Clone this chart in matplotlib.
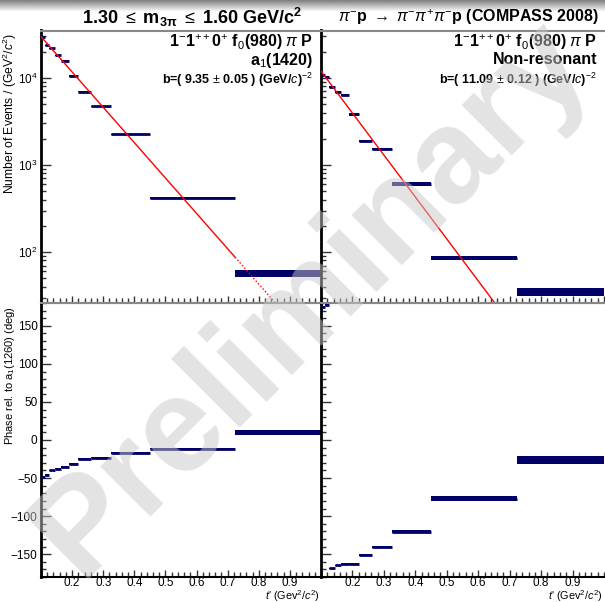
import numpy as np
import matplotlib
matplotlib.use("Agg")
import matplotlib.pyplot as plt
from matplotlib.ticker import MultipleLocator, LogLocator, LogFormatterMathtext, NullFormatter

plt.rcParams['font.family'] = ['Liberation Sans', 'DejaVu Sans']
plt.rcParams['mathtext.fontset'] = 'custom'
plt.rcParams['mathtext.rm'] = 'Liberation Sans'
plt.rcParams['mathtext.it'] = 'Liberation Sans:italic'
plt.rcParams['mathtext.bf'] = 'Liberation Sans:bold'

# t' bin edges (GeV^2/c^2)
t_edges = [0.100, 0.113, 0.127, 0.144, 0.164, 0.189, 0.220, 0.262, 0.326, 0.449, 0.724, 1.000]

# intensities per bin width
a1_events = [29200, 23600, 21800, 18100, 15800, 10500, 6900, 4730, 2240, 415, 57]
a1_err = [300, 300, 300, 250, 220, 150, 100, 70, 40, 10, 5.5]
nonres_events = [10800, 10200, 7870, 6830, 6310, 3800, 1880, 1520, 608, 85, 35]
nonres_err = [250, 250, 200, 180, 170, 110, 60, 50, 30, 5, 3.3]

# phases relative to a1(1260) (deg)
a1_phase = [-48.3, -45.7, -39.8, -37.7, -35.8, -31.5, -24.8, -23.1, -16.9, -11.2, 10.1]
a1_phase_err = [1, 1, 1, 1, 1, 1, 1, 1, 1, 1, 2.9]
nonres_phase = [175, 177, -168.6, -164.6, -162.9, -162.9, -151, -140.3, -120.8, -77, -26.2]
nonres_phase_err = [1.5, 1.5, 1, 1, 1, 1, 1, 1, 2, 3, 5]

# exponential fits A*exp(-b t')
a1_fit = (75900, 9.35)
nonres_fit = (36200, 11.09)
fit_range = (0.100, 0.724)

navy = '#000066'
edges = np.array(t_edges)
lo = edges[:-1]
widths = np.diff(edges)

fig = plt.figure(figsize=(6.05, 6.02), dpi=100)

# grey shading across the very top
grad = fig.add_axes([0, 1 - 12 / 602, 1, 12 / 602])
grad.imshow(np.linspace(0.5, 1.0, 20)[:, None], cmap='gray', vmin=0, vmax=1,
            aspect='auto', extent=[0, 1, 0, 1])
grad.axis('off')

W, H = 605.0, 602.0
xl, xm, xr = 41, 321, 604
yt, ym, yb = 30.5, 303, 577
ax_tl = fig.add_axes([xl / W, 1 - ym / H, (xm - xl) / W, (ym - yt) / H])
ax_tr = fig.add_axes([xm / W, 1 - ym / H, (xr - xm) / W, (ym - yt) / H], sharey=ax_tl)
ax_bl = fig.add_axes([xl / W, 1 - yb / H, (xm - xl) / W, (yb - ym) / H])
ax_br = fig.add_axes([xm / W, 1 - yb / H, (xr - xm) / W, (yb - ym) / H], sharey=ax_bl)


def draw_bins(ax, vals, errs):
    vals = np.array(vals, float)
    errs = np.array(errs, float)
    ax.bar(lo, 2 * errs, width=widths, bottom=vals - errs, align='edge',
           color=navy, edgecolor='none', zorder=3)
    ax.hlines(vals, lo, edges[1:], colors=navy, lw=2.0, zorder=3)


def style(ax, top, show_ylabels):
    ax.set_xlim(0.1, 1.0)
    ax.spines['right'].set_visible(False)
    ax.spines['left'].set_linewidth(2.0)
    ax.spines['left'].set_color('black')
    ax.spines['top'].set_color('#888888')
    ax.spines['top'].set_linewidth(1.5)
    ax.spines['bottom'].set_linewidth(1.5)
    if top:
        ax.spines['bottom'].set_color('#888888')
    ax.xaxis.set_major_locator(MultipleLocator(0.1))
    ax.xaxis.set_minor_locator(MultipleLocator(0.02))
    ax.tick_params(axis='both', which='major', direction='in', length=7, width=1,
                   labelsize=8.5, color='#333333', pad=2.5)
    ax.tick_params(axis='both', which='minor', direction='in', length=3.5, width=1,
                   color='#333333')
    ax.tick_params(axis='x', which='both', top=False, labelbottom=not top)
    ax.tick_params(axis='x', which='major', length=5, pad=0.3)
    ax.tick_params(axis='y', which='both', right=False, labelleft=show_ylabels)
    ax.set_facecolor('none')


# intensity panels
for ax, vals, errs, fit, dotted in ((ax_tl, a1_events, a1_err, a1_fit, True),
                                     (ax_tr, nonres_events, nonres_err, nonres_fit, False)):
    draw_bins(ax, vals, errs)
    amp, slope = fit
    if dotted:
        t_in = np.linspace(fit_range[0], fit_range[1], 200)
        t_out = np.linspace(fit_range[1], 1.0, 100)
        ax.plot(t_in, amp * np.exp(-slope * t_in), color='red', lw=1.0, zorder=4)
        ax.plot(t_out, amp * np.exp(-slope * t_out), color='red', lw=1.0,
                ls=(0, (1, 1.5)), zorder=4)
    else:
        t_all = np.linspace(0.1, 1.0, 300)
        ax.plot(t_all, amp * np.exp(-slope * t_all), color='red', lw=1.0, zorder=4)

ax_tl.set_yscale('log')
ax_tl.set_ylim(26, 35000)
ax_tl.yaxis.set_major_locator(LogLocator(base=10))
ax_tl.yaxis.set_minor_locator(LogLocator(base=10, subs=np.arange(2, 10)))
ax_tl.yaxis.set_major_formatter(LogFormatterMathtext())
ax_tl.yaxis.set_minor_formatter(NullFormatter())
style(ax_tl, True, True)
style(ax_tr, True, False)

# phase panels
draw_bins(ax_bl, a1_phase, a1_phase_err)
draw_bins(ax_br, nonres_phase, nonres_phase_err)
ax_bl.set_ylim(-180, 180)
ax_bl.yaxis.set_major_locator(MultipleLocator(50))
ax_bl.yaxis.set_minor_locator(MultipleLocator(10))
style(ax_bl, False, True)
style(ax_br, False, False)
for ax in (ax_bl, ax_br):
    ax.set_xticks(np.arange(0.2, 0.95, 0.1))
    ax.set_xticklabels(['%.1f' % v for v in np.arange(0.2, 0.95, 0.1)])

# axis titles
fig.text(10 / W, 1 - 33 / H, r"Number of Events / (GeV$^{2}$/$c^{2}$)", rotation=90,
         ha='center', va='top', fontsize=8.7)
fig.text(10 / W, 1 - 306 / H, r"Phase rel. to a$_{1}$(1260) (deg)", rotation=90,
         ha='center', va='top', fontsize=8)
for xe in (xm, xr):
    fig.text((xe - 1) / W, 1 - 599.5 / H, r"$t$' (Gev$^{2}$/$c^{2}$)", ha='right',
             va='baseline', fontsize=7.8)

# headers
fig.text(192 / W, 1 - 17 / H, r"1.30 $\leq$ m$_{\mathbf{3\pi}}$ $\leq$ 1.60 GeV/$\mathbf{c}^{\mathbf{2}}$",
         ha='center', va='center', fontsize=13, fontweight='bold')
fig.text(599 / W, 1 - 17 / H, r"$\pi^{-}$p $\rightarrow$ $\pi^{-}\pi^{+}\pi^{-}$p (COMPASS 2008)",
         ha='right', va='center', fontsize=11.5, fontweight='bold')

# panel labels
for x_right, name, bval in ((313, "a$_{1}$(1420)", r"b=( 9.35 $\pm$ 0.05 ) (GeV/$c$)$^{-2}$"),
                            (597, "Non-resonant", r"b=( 11.09 $\pm$ 0.12 ) (GeV/$c$)$^{-2}$")):
    fig.text(x_right / W, 1 - 42 / H, r"1$^{-}$1$^{++}$0$^{+}$ f$_{0}$(980) $\pi$ P",
             ha='right', va='center', fontsize=11.5, fontweight='bold')
    fig.text(x_right / W, 1 - 60 / H, name, ha='right', va='center',
             fontsize=11.5, fontweight='bold')
    fig.text(x_right / W, 1 - 80 / H, bval, ha='right', va='center',
             fontsize=9, fontweight='bold')

# watermark
fig.text(0.515, 0.505, "Preliminary", rotation=45, ha='center', va='center',
         fontsize=96, fontweight='bold', color='#c8c8c8', alpha=0.5, zorder=10)

fig.savefig("out.png", dpi=100)
